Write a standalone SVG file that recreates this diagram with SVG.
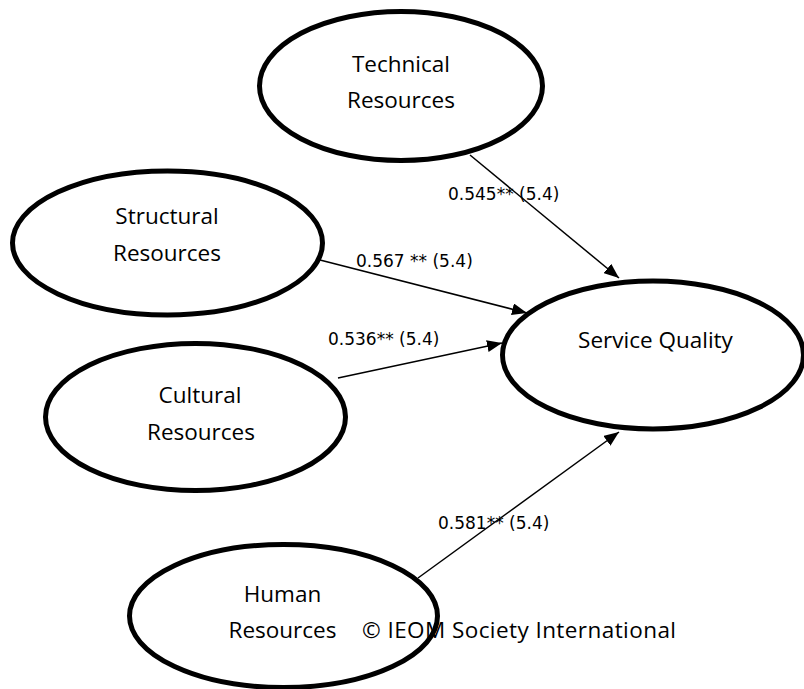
<svg xmlns="http://www.w3.org/2000/svg" width="804" height="689" viewBox="0 0 804 689">
  <style>
    .node { fill: #ffffff; stroke: #000000; stroke-width: 5; }
    .lbl { font-family: "Open Sans", "Liberation Sans", sans-serif; font-size: 22.5px; fill: #000000; text-anchor: middle; }
    .edge { stroke: #000000; stroke-width: 1.5; fill: none; marker-end: url(#arrow); }
    .coef { font-family: "DejaVu Sans", "Liberation Sans", sans-serif; font-size: 17px; fill: #000000; }
    .note { font-family: "Open Sans", "Liberation Sans", sans-serif; font-size: 22.5px; fill: #000000; }
  </style>
  <defs>
    <marker id="arrow" markerUnits="userSpaceOnUse" markerWidth="16" markerHeight="12" refX="15" refY="6" orient="auto">
      <path d="M0,0 L15,6 L0,12 z" fill="#000000"/>
    </marker>
  </defs>
  <rect width="804" height="689" fill="#ffffff"/>

  <g id="technical">
    <ellipse class="node" cx="401" cy="86" rx="141.5" ry="74.5"/>
    <text class="lbl" x="401" y="72">Technical</text>
    <text class="lbl" x="401" y="108">Resources</text>
  </g>

  <g id="structural">
    <ellipse class="node" cx="167.5" cy="243" rx="155" ry="72"/>
    <text class="lbl" x="167" y="224">Structural</text>
    <text class="lbl" x="167" y="261">Resources</text>
  </g>

  <g id="cultural">
    <ellipse class="node" cx="195.5" cy="417" rx="150" ry="73.5"/>
    <text class="lbl" x="200" y="403">Cultural</text>
    <text class="lbl" x="201" y="440">Resources</text>
  </g>

  <g id="service-quality">
    <ellipse class="node" cx="653" cy="355" rx="150.5" ry="74"/>
    <text class="lbl" x="655.5" y="348">Service Quality</text>
  </g>

  <g id="human">
    <ellipse class="node" cx="283.5" cy="616" rx="154" ry="71.5"/>
    <text class="lbl" x="282.5" y="602">Human</text>
    <text class="lbl" x="282.5" y="638">Resources</text>
  </g>

  <g id="connectors">
    <line class="edge" x1="470" y1="155" x2="619" y2="278"/>
    <line class="edge" x1="320" y1="260" x2="527" y2="313"/>
    <line class="edge" x1="338" y1="378" x2="502" y2="343"/>
    <line class="edge" x1="418" y1="578" x2="619" y2="432"/>
  </g>

  <g id="coefficients">
    <text class="coef" x="448" y="200">0.545** (5.4)</text>
    <text class="coef" x="356" y="267">0.567 ** (5.4)</text>
    <text class="coef" x="328" y="345">0.536** (5.4)</text>
    <text class="coef" x="438" y="529">0.581** (5.4)</text>
  </g>

  <text class="note" x="362" y="638" textLength="314">© IEOM Society International</text>
</svg>
